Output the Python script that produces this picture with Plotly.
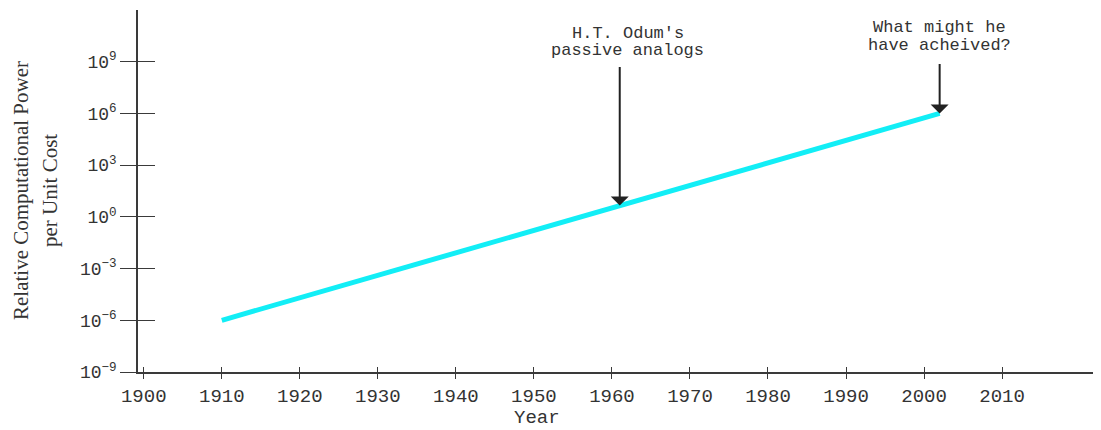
import numpy as np
import plotly.graph_objects as go

# ---- data ----
years = [1910, 2002]
power = [1e-6, 1e6]
x_ticks = [1900, 1910, 1920, 1930, 1940, 1950, 1960, 1970, 1980, 1990, 2000, 2010]
y_exponents = [-9, -6, -3, 0, 3, 6, 9]
y_ticktext = ["10<sup>−9</sup>", "10<sup>−6</sup>", "10<sup>−3</sup>", "10<sup>0</sup>",
              "10<sup>3</sup>", "10<sup>6</sup>", "10<sup>9</sup>"]
odum_year = 1961
future_year = 2002
odum_lines = ["H.T. Odum's", "passive analogs"]
future_lines = ["What might he", "have acheived?"]

AXC = "#3a3a3a"
MONO = "Courier New, Liberation Mono, monospace"
SERIF = "Liberation Serif, Times New Roman, serif"

def log_at(yr):
    return float(np.interp(yr, years, np.log10(power)))

fig = go.Figure()
fig.add_trace(go.Scatter(x=years, y=power, mode="lines",
                         line=dict(color="#12EEF6", width=5),
                         hoverinfo="skip", showlegend=False))

xr = [1899.26, 2022.55]
yr = [-9, 12]
y_tickvals = [10.0 ** e for e in y_exponents]

fig.update_layout(
    width=1093, height=422,
    margin=dict(l=130, r=1, t=2, b=58),
    paper_bgcolor="white", plot_bgcolor="white",
    showlegend=False,
    xaxis=dict(range=xr, tickvals=x_ticks, ticks="outside", ticklen=5, tickwidth=1.2,
               tickcolor=AXC, showline=True, linecolor=AXC, linewidth=1.5,
               showgrid=False, zeroline=False,
               tickfont=dict(family=MONO, size=19, color="#333")),
    yaxis=dict(type="log", range=yr, tickvals=y_tickvals, ticktext=y_ticktext,
               ticks="outside", ticklen=16, tickwidth=1.2, tickcolor=AXC,
               showline=True, linecolor=AXC, linewidth=1.5,
               showgrid=False, zeroline=False,
               tickfont=dict(family=MONO, size=18, color="#333")),
    xaxis2=dict(overlaying="x", range=xr, tickvals=x_ticks, ticks="inside", ticklen=5,
                tickwidth=1.2, tickcolor=AXC, showticklabels=False, showline=False,
                showgrid=False, zeroline=False, anchor="y"),
    yaxis2=dict(overlaying="y", type="log", range=yr, tickvals=y_tickvals,
                ticks="inside", ticklen=17, tickwidth=1.2, tickcolor=AXC,
                showticklabels=False, showline=False, showgrid=False,
                zeroline=False, anchor="x"),
)
# invisible trace so the overlay axes are drawn
fig.add_trace(go.Scatter(x=years, y=power, xaxis="x2", yaxis="y2", mode="lines",
                         line=dict(width=0), opacity=0, hoverinfo="skip",
                         showlegend=False))

# plot area in figure pixels: top 2, bottom 364 (height 362)
def py(pix_in_ref):
    return (372 - pix_in_ref) / 362.0

ann = []
# arrows
for yr_, ay in [(odum_year, -140), (future_year, -51)]:
    ann.append(dict(x=yr_, y=log_at(yr_), xref="x", yref="y", text="",
                    showarrow=True, ax=0, ay=ay, arrowhead=1, arrowsize=1.5,
                    arrowwidth=2, arrowcolor="#222", standoff=0))
# texts
for t, yy in zip(odum_lines, [py(33), py(50)]):
    ann.append(dict(x=odum_year, y=yy, xref="x", yref="paper", text=t, showarrow=False,
                    xshift=8, yanchor="middle",
                    font=dict(family=MONO, size=17, color="#333")))
for t, yy in zip(future_lines, [py(27), py(45)]):
    ann.append(dict(x=future_year, y=yy, xref="x", yref="paper", text=t, showarrow=False,
                    yanchor="middle",
                    font=dict(family=MONO, size=17, color="#333")))
# axis titles
ann.append(dict(x=(537 - 138) / 962.0, y=py(418), xref="paper", yref="paper", text="Year",
                showarrow=False, yanchor="middle",
                font=dict(family=MONO, size=19, color="#333")))
ann.append(dict(x=0, y=0.5, xref="paper", yref="paper", text="Relative Computational Power",
                showarrow=False, textangle=-90, xanchor="center", yanchor="middle",
                xshift=-117, font=dict(family=SERIF, size=21, color="#333")))
ann.append(dict(x=0, y=0.5, xref="paper", yref="paper", text="per Unit Cost",
                showarrow=False, textangle=-90, xanchor="center", yanchor="middle",
                xshift=-88, font=dict(family=SERIF, size=21, color="#333")))
fig.update_layout(annotations=ann)

fig.write_html("out.html")
